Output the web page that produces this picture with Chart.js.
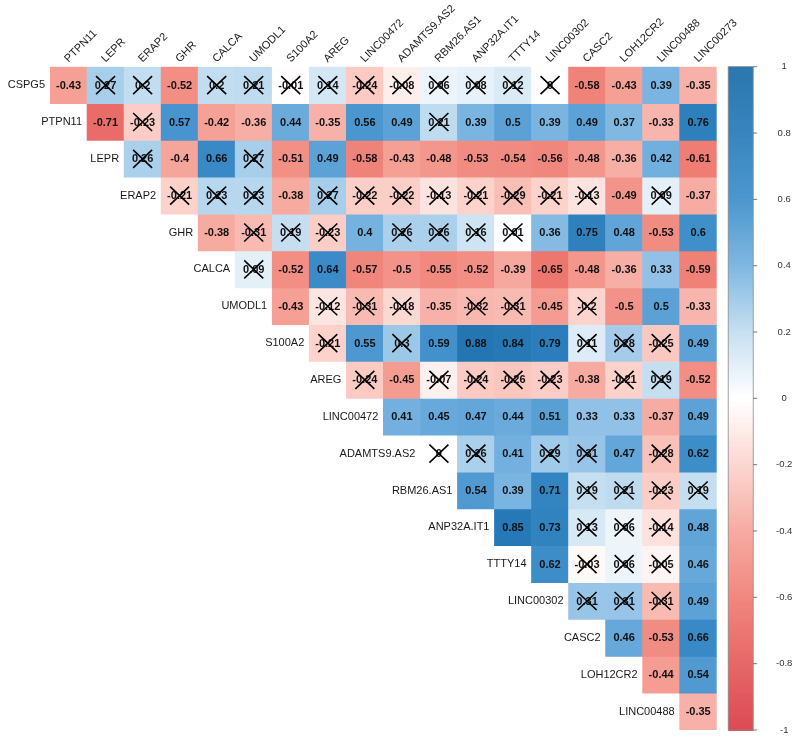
<!DOCTYPE html>
<html>
<head>
<meta charset="utf-8">
<script src="https://cdn.jsdelivr.net/npm/chart.js@4/dist/chart.umd.min.js"></script>
<style>
  html, body { margin: 0; padding: 0; background: #fff; }
</style>
</head>
<body>
<canvas id="c" width="796" height="740"></canvas>
<script>
// column and row genes of the upper triangle
const columns = ['PTPN11', 'LEPR', 'ERAP2', 'GHR', 'CALCA', 'UMODL1', 'S100A2', 'AREG', 'LINC00472',
  'ADAMTS9.AS2', 'RBM26.AS1', 'ANP32A.IT1', 'TTTY14', 'LINC00302', 'CASC2', 'LOH12CR2', 'LINC00488', 'LINC00273'];
const rows = ['CSPG5', 'PTPN11', 'LEPR', 'ERAP2', 'GHR', 'CALCA', 'UMODL1', 'S100A2', 'AREG', 'LINC00472',
  'ADAMTS9.AS2', 'RBM26.AS1', 'ANP32A.IT1', 'TTTY14', 'LINC00302', 'CASC2', 'LOH12CR2', 'LINC00488'];

// correlations, each row starts at the column with the same index
const rCSPG5 = [-0.43, 0.27, 0.2, -0.52, 0.2, 0.21, -0.01, 0.14, -0.24, -0.08, 0.06, 0.08, 0.12, 0, -0.58, -0.43, 0.39, -0.35];
const rPTPN11 = [-0.71, -0.23, 0.57, -0.42, -0.36, 0.44, -0.35, 0.56, 0.49, 0.21, 0.39, 0.5, 0.39, 0.49, 0.37, -0.33, 0.76];
const rLEPR = [0.26, -0.4, 0.66, 0.27, -0.51, 0.49, -0.58, -0.43, -0.48, -0.53, -0.54, -0.56, -0.48, -0.36, 0.42, -0.61];
const rERAP2 = [-0.21, 0.23, 0.23, -0.38, 0.27, -0.22, -0.22, -0.13, -0.21, -0.29, -0.21, -0.13, -0.49, 0.09, -0.37];
const rGHR = [-0.38, -0.31, 0.19, -0.23, 0.4, 0.26, 0.26, 0.16, 0.01, 0.36, 0.75, 0.48, -0.53, 0.6];
const rCALCA = [0.09, -0.52, 0.64, -0.57, -0.5, -0.55, -0.52, -0.39, -0.65, -0.48, -0.36, 0.33, -0.59];
const rUMODL1 = [-0.43, -0.12, -0.31, -0.18, -0.35, -0.32, -0.31, -0.45, -0.2, -0.5, 0.5, -0.33];
const rS100A2 = [-0.21, 0.55, 0.3, 0.59, 0.88, 0.84, 0.79, 0.11, 0.28, -0.25, 0.49];
const rAREG = [-0.24, -0.45, -0.07, -0.24, -0.26, -0.23, -0.38, -0.21, 0.19, -0.52];
const rLINC00472 = [0.41, 0.45, 0.47, 0.44, 0.51, 0.33, 0.33, -0.37, 0.49];
const rADAMTS9 = [0, 0.26, 0.41, 0.29, 0.31, 0.47, -0.28, 0.62];
const rRBM26 = [0.54, 0.39, 0.71, 0.19, 0.21, -0.23, 0.19];
const rANP32A = [0.85, 0.73, 0.13, 0.06, -0.14, 0.48];
const rTTTY14 = [0.62, -0.03, 0.06, -0.05, 0.46];
const rLINC00302 = [0.31, 0.31, -0.31, 0.49];
const rCASC2 = [0.46, -0.53, 0.66];
const rLOH12CR2 = [-0.44, 0.54];
const rLINC00488 = [-0.35];

const rowValues = [rCSPG5, rPTPN11, rLEPR, rERAP2, rGHR, rCALCA, rUMODL1, rS100A2, rAREG, rLINC00472,
  rADAMTS9, rRBM26, rANP32A, rTTTY14, rLINC00302, rCASC2, rLOH12CR2, rLINC00488];

// colour bar ticks
const barTicks = [-1, -0.8, -0.6, -0.4, -0.2, 0, 0.2, 0.4, 0.6, 0.8, 1];

// |r| below this is not significant and gets crossed out
const sigCut = 0.33;

// red - white - blue palette
const palette = [
  [-1, [217, 62, 72]],
  [-0.8, [229, 92, 93]],
  [-0.6, [239, 127, 117]],
  [-0.4, [246, 165, 155]],
  [-0.2, [252, 212, 205]],
  [0, [255, 255, 255]],
  [0.2, [194, 221, 240]],
  [0.4, [118, 178, 224]],
  [0.6, [63, 143, 203]],
  [0.8, [42, 124, 186]],
  [1, [27, 108, 168]]
];

function colorFor(v) {
  for (var k = 0; k < palette.length - 1; k++) {
    var a = palette[k], b = palette[k + 1];
    if (v <= b[0]) {
      var t = (v - a[0]) / (b[0] - a[0]);
      if (t < 0) t = 0;
      var c = a[1].map(function (x, n) { return Math.round(x + (b[1][n] - x) * t); });
      return 'rgb(' + c.join(',') + ')';
    }
  }
  return 'rgb(' + palette[palette.length - 1][1].join(',') + ')';
}

function cellValue(i, j) {
  return rowValues[i][j - i];
}

var datasets = rows.map(function (name, i) {
  return {
    label: name,
    data: columns.map(function (c, j) { return j >= i ? [i - 0.5, i + 0.5] : null; }),
    backgroundColor: columns.map(function (c, j) { return j >= i ? colorFor(cellValue(i, j)) : 'rgba(0,0,0,0)'; }),
    borderWidth: 0,
    grouped: false,
    barPercentage: 1,
    categoryPercentage: 1,
    xAxisID: 'x',
    yAxisID: 'y'
  };
});

var labelPlugin = {
  id: 'corrText',
  afterDatasetsDraw: function (chart) {
    var ctx = chart.ctx;
    var xs = chart.scales.x, ys = chart.scales.y, cb = chart.scales.cb;
    var area = chart.chartArea;
    var half = (xs.getPixelForValue(1) - xs.getPixelForValue(0)) / 2;
    ctx.save();

    // numbers and crosses
    ctx.textAlign = 'center';
    ctx.textBaseline = 'middle';
    for (var i = 0; i < rows.length; i++) {
      for (var j = i; j < columns.length; j++) {
        var v = cellValue(i, j);
        var cx = xs.getPixelForValue(j), cy = ys.getPixelForValue(i);
        ctx.fillStyle = '#111';
        ctx.font = 'bold 11px "Liberation Sans", Arial, sans-serif';
        ctx.fillText(String(v), cx, cy + 0.5);
        if (Math.abs(v) < sigCut) {
          ctx.strokeStyle = '#000';
          ctx.lineWidth = 1.6;
          ctx.beginPath();
          ctx.moveTo(cx - 9.5, cy - 9);
          ctx.lineTo(cx + 9.5, cy + 9);
          ctx.moveTo(cx - 9.5, cy + 9);
          ctx.lineTo(cx + 9.5, cy - 9);
          ctx.stroke();
        }
      }
    }

    // row names beside the diagonal
    ctx.font = '11px "Liberation Sans", Arial, sans-serif';
    ctx.fillStyle = '#1a1a1a';
    ctx.textAlign = 'right';
    ctx.textBaseline = 'middle';
    rows.forEach(function (name, i) {
      ctx.fillText(name, xs.getPixelForValue(i) - half - 5, ys.getPixelForValue(i));
    });

    // column names, rotated
    ctx.textAlign = 'left';
    ctx.textBaseline = 'alphabetic';
    columns.forEach(function (name, j) {
      ctx.save();
      ctx.translate(xs.getPixelForValue(j), area.top - 4);
      ctx.rotate(-Math.PI / 4);
      ctx.fillText(name, 0, 0);
      ctx.restore();
    });

    // colour bar
    var bx = area.right + 11.5, bw = 25;
    var top = cb.getPixelForValue(1), bot = cb.getPixelForValue(-1);
    for (var p = top; p < bot; p += 1) {
      var val = cb.getValueForPixel(p + 0.5);
      ctx.fillStyle = colorFor(val);
      ctx.fillRect(bx, p, bw, 1.2);
    }
    ctx.strokeStyle = '#8a8a8a';
    ctx.lineWidth = 0.8;
    ctx.strokeRect(bx, top, bw, bot - top);
    ctx.strokeStyle = '#555';
    ctx.fillStyle = '#333';
    ctx.font = '9.5px "Liberation Sans", Arial, sans-serif';
    ctx.textAlign = 'center';
    ctx.textBaseline = 'middle';
    barTicks.forEach(function (t) {
      var py = cb.getPixelForValue(t);
      ctx.beginPath();
      ctx.moveTo(bx + bw, py);
      ctx.lineTo(bx + bw + 4, py);
      ctx.stroke();
      ctx.fillText(String(t), bx + bw + 31, py);
    });

    ctx.restore();
  }
};

var chart = new Chart(document.getElementById('c').getContext('2d'), {
  type: 'bar',
  data: { labels: columns, datasets: datasets },
  options: {
    responsive: false,
    animation: false,
    layout: { padding: { left: 50, right: 79.3, top: 66.7, bottom: 10 } },
    plugins: { legend: { display: false }, tooltip: { enabled: false } },
    scales: {
      x: { type: 'category', display: false, offset: true },
      y: { type: 'linear', display: false, min: -0.5, max: 17.5, reverse: true },
      cb: { type: 'linear', axis: 'y', position: 'right', display: false, min: -1, max: 1 }
    }
  },
  plugins: [labelPlugin]
});
</script>
</body>
</html>
